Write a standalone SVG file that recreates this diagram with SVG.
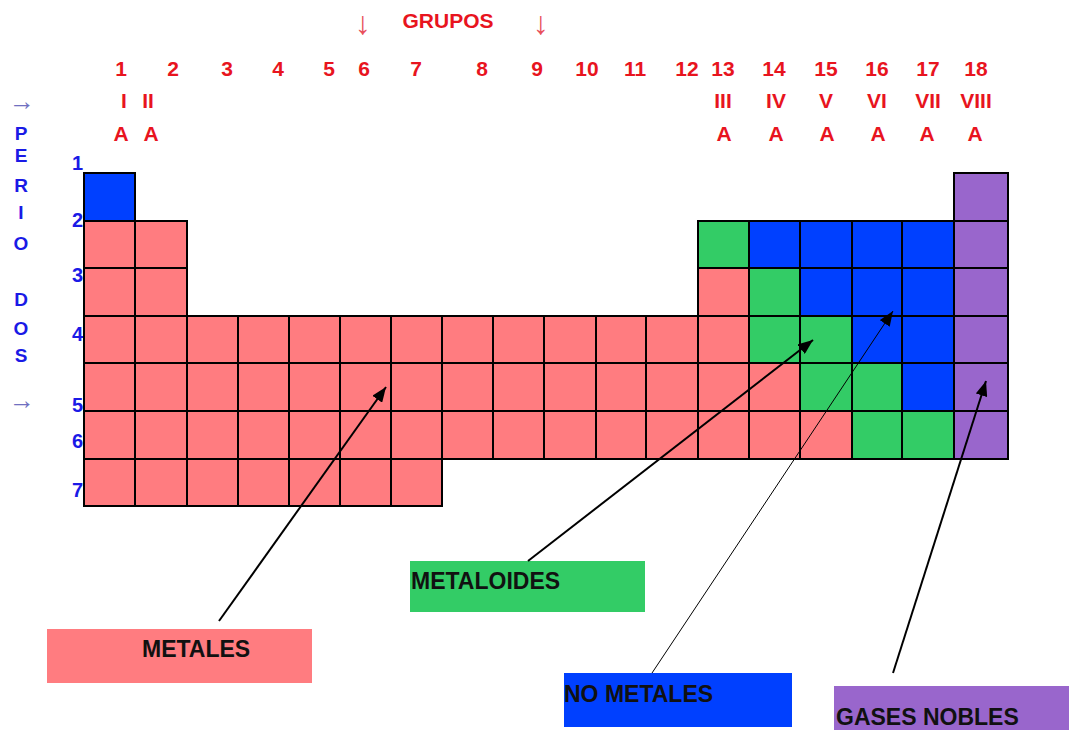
<svg xmlns="http://www.w3.org/2000/svg" width="1073" height="730" viewBox="0 0 1073 730">
<style>
.r{fill:#FF7C80;stroke:#000;stroke-width:2}
.b{fill:#0040FF;stroke:#000;stroke-width:2}
.g{fill:#33CC66;stroke:#000;stroke-width:2}
.p{fill:#9966CC;stroke:#000;stroke-width:2}
.h{font-family:"Liberation Sans",Arial,sans-serif;font-weight:bold;font-size:21px;fill:#E8141E;text-anchor:middle}
.ar{font-family:"Liberation Sans","DejaVu Sans",sans-serif;font-size:32px;fill:#E8505A;text-anchor:middle}
.pl{font-family:"Liberation Sans",Arial,sans-serif;font-weight:bold;font-size:19px;fill:#1A1AE6;text-anchor:middle}
.pn{font-family:"Liberation Sans",Arial,sans-serif;font-weight:bold;font-size:20px;fill:#1A1AE6;text-anchor:end}
.pa{font-family:"Liberation Sans","DejaVu Sans",sans-serif;font-size:26px;fill:#7070C0;text-anchor:middle}
.lt{font-family:"Liberation Sans",Arial,sans-serif;font-weight:bold;font-size:23px;fill:#111}
.c{stroke:#000;fill:none}
</style>
<defs>
<marker id="ah" markerUnits="userSpaceOnUse" markerWidth="16" markerHeight="12" refX="15" refY="6" orient="auto">
<path d="M0,0 L15,6 L0,12 z" fill="#000"/>
</marker>
</defs>
<rect width="1073" height="730" fill="#fff"/>

<g id="header">
<text class="ar" x="363" y="34">↓</text>
<text class="h" x="448" y="28" font-size="22">GRUPOS</text>
<text class="ar" x="541" y="34">↓</text>
<text class="h" x="121" y="76">1</text>
<text class="h" x="173" y="76">2</text>
<text class="h" x="227" y="76">3</text>
<text class="h" x="278" y="76">4</text>
<text class="h" x="329" y="76">5</text>
<text class="h" x="364" y="76">6</text>
<text class="h" x="416" y="76">7</text>
<text class="h" x="482" y="76">8</text>
<text class="h" x="537" y="76">9</text>
<text class="h" x="587" y="76">10</text>
<text class="h" x="635" y="76">11</text>
<text class="h" x="687" y="76">12</text>
<text class="h" x="723" y="76">13</text>
<text class="h" x="774" y="76">14</text>
<text class="h" x="826" y="76">15</text>
<text class="h" x="877" y="76">16</text>
<text class="h" x="928" y="76">17</text>
<text class="h" x="976" y="76">18</text>
<text class="h" x="124" y="108">I</text>
<text class="h" x="148" y="108">II</text>
<text class="h" x="723" y="108">III</text>
<text class="h" x="776" y="108">IV</text>
<text class="h" x="826" y="108">V</text>
<text class="h" x="877" y="108">VI</text>
<text class="h" x="928" y="108">VII</text>
<text class="h" x="976" y="108">VIII</text>
<text class="h" x="121" y="140.5">A</text>
<text class="h" x="151" y="140.5">A</text>
<text class="h" x="724" y="140.5">A</text>
<text class="h" x="776" y="140.5">A</text>
<text class="h" x="827" y="140.5">A</text>
<text class="h" x="878" y="140.5">A</text>
<text class="h" x="927" y="140.5">A</text>
<text class="h" x="975" y="140.5">A</text>
</g>

<g id="periodos">
<text class="pa" x="22" y="110">→</text>
<text class="pl" x="21" y="140">P</text>
<text class="pl" x="21" y="162">E</text>
<text class="pl" x="21" y="192">R</text>
<text class="pl" x="21" y="219">I</text>
<text class="pl" x="21" y="250">O</text>
<text class="pl" x="21" y="306">D</text>
<text class="pl" x="21" y="335">O</text>
<text class="pl" x="21" y="362">S</text>
<text class="pa" x="22" y="409">→</text>
<text class="pn" x="83" y="170">1</text>
<text class="pn" x="83" y="227">2</text>
<text class="pn" x="83" y="282">3</text>
<text class="pn" x="83" y="341">4</text>
<text class="pn" x="83" y="412">5</text>
<text class="pn" x="83" y="448">6</text>
<text class="pn" x="83" y="497">7</text>
</g>

<g id="tabla">
<!-- row 1 -->
<rect class="b" x="84" y="173" width="51" height="48"/>
<rect class="p" x="954" y="173" width="54" height="48"/>
<!-- row 2 -->
<rect class="r" x="84" y="221" width="51" height="47"/>
<rect class="r" x="135" y="221" width="52" height="47"/>
<rect class="g" x="698" y="221" width="51" height="47"/>
<rect class="b" x="749" y="221" width="51" height="47"/>
<rect class="b" x="800" y="221" width="52" height="47"/>
<rect class="b" x="852" y="221" width="50" height="47"/>
<rect class="b" x="902" y="221" width="52" height="47"/>
<rect class="p" x="954" y="221" width="54" height="47"/>
<!-- row 3 -->
<rect class="r" x="84" y="268" width="51" height="48"/>
<rect class="r" x="135" y="268" width="52" height="48"/>
<rect class="r" x="698" y="268" width="51" height="48"/>
<rect class="g" x="749" y="268" width="51" height="48"/>
<rect class="b" x="800" y="268" width="52" height="48"/>
<rect class="b" x="852" y="268" width="50" height="48"/>
<rect class="b" x="902" y="268" width="52" height="48"/>
<rect class="p" x="954" y="268" width="54" height="48"/>
<!-- row 4 -->
<rect class="r" x="84" y="316" width="51" height="47"/>
<rect class="r" x="135" y="316" width="52" height="47"/>
<rect class="r" x="187" y="316" width="51" height="47"/>
<rect class="r" x="238" y="316" width="51" height="47"/>
<rect class="r" x="289" y="316" width="51" height="47"/>
<rect class="r" x="340" y="316" width="51" height="47"/>
<rect class="r" x="391" y="316" width="51" height="47"/>
<rect class="r" x="442" y="316" width="51" height="47"/>
<rect class="r" x="493" y="316" width="51" height="47"/>
<rect class="r" x="544" y="316" width="52" height="47"/>
<rect class="r" x="596" y="316" width="50" height="47"/>
<rect class="r" x="646" y="316" width="52" height="47"/>
<rect class="r" x="698" y="316" width="51" height="47"/>
<rect class="g" x="749" y="316" width="51" height="47"/>
<rect class="g" x="800" y="316" width="52" height="47"/>
<rect class="b" x="852" y="316" width="50" height="47"/>
<rect class="b" x="902" y="316" width="52" height="47"/>
<rect class="p" x="954" y="316" width="54" height="47"/>
<!-- row 5 -->
<rect class="r" x="84" y="363" width="51" height="48"/>
<rect class="r" x="135" y="363" width="52" height="48"/>
<rect class="r" x="187" y="363" width="51" height="48"/>
<rect class="r" x="238" y="363" width="51" height="48"/>
<rect class="r" x="289" y="363" width="51" height="48"/>
<rect class="r" x="340" y="363" width="51" height="48"/>
<rect class="r" x="391" y="363" width="51" height="48"/>
<rect class="r" x="442" y="363" width="51" height="48"/>
<rect class="r" x="493" y="363" width="51" height="48"/>
<rect class="r" x="544" y="363" width="52" height="48"/>
<rect class="r" x="596" y="363" width="50" height="48"/>
<rect class="r" x="646" y="363" width="52" height="48"/>
<rect class="r" x="698" y="363" width="51" height="48"/>
<rect class="r" x="749" y="363" width="51" height="48"/>
<rect class="g" x="800" y="363" width="52" height="48"/>
<rect class="g" x="852" y="363" width="50" height="48"/>
<rect class="b" x="902" y="363" width="52" height="48"/>
<rect class="p" x="954" y="363" width="54" height="48"/>
<!-- row 6 -->
<rect class="r" x="84" y="411" width="51" height="48"/>
<rect class="r" x="135" y="411" width="52" height="48"/>
<rect class="r" x="187" y="411" width="51" height="48"/>
<rect class="r" x="238" y="411" width="51" height="48"/>
<rect class="r" x="289" y="411" width="51" height="48"/>
<rect class="r" x="340" y="411" width="51" height="48"/>
<rect class="r" x="391" y="411" width="51" height="48"/>
<rect class="r" x="442" y="411" width="51" height="48"/>
<rect class="r" x="493" y="411" width="51" height="48"/>
<rect class="r" x="544" y="411" width="52" height="48"/>
<rect class="r" x="596" y="411" width="50" height="48"/>
<rect class="r" x="646" y="411" width="52" height="48"/>
<rect class="r" x="698" y="411" width="51" height="48"/>
<rect class="r" x="749" y="411" width="51" height="48"/>
<rect class="r" x="800" y="411" width="52" height="48"/>
<rect class="g" x="852" y="411" width="50" height="48"/>
<rect class="g" x="902" y="411" width="52" height="48"/>
<rect class="p" x="954" y="411" width="54" height="48"/>
<!-- row 7 -->
<rect class="r" x="84" y="459" width="51" height="47"/>
<rect class="r" x="135" y="459" width="52" height="47"/>
<rect class="r" x="187" y="459" width="51" height="47"/>
<rect class="r" x="238" y="459" width="51" height="47"/>
<rect class="r" x="289" y="459" width="51" height="47"/>
<rect class="r" x="340" y="459" width="51" height="47"/>
<rect class="r" x="391" y="459" width="51" height="47"/>
</g>

<g id="metales">
<rect x="47" y="629" width="265" height="54" fill="#FF7C80"/>
<text class="lt" x="142" y="657">METALES</text>
</g>
<g id="metaloides">
<rect x="410" y="561" width="235" height="51" fill="#33CC66"/>
<text class="lt" x="411" y="589">METALOIDES</text>
</g>
<g id="no-metales">
<rect x="564" y="673" width="228" height="54" fill="#0040FF"/>
<text class="lt" x="564" y="702">NO METALES</text>
</g>
<g id="gases-nobles">
<rect x="834" y="686" width="235" height="44" fill="#9966CC"/>
<text class="lt" x="836" y="725" font-size="21.5">GASES NOBLES</text>
</g>

<g id="connectors">
<line class="c" x1="219" y1="621" x2="386" y2="387" stroke-width="2" marker-end="url(#ah)"/>
<line class="c" x1="528" y1="561" x2="813" y2="340" stroke-width="2" marker-end="url(#ah)"/>
<line class="c" x1="652" y1="673" x2="893" y2="311" stroke-width="1" marker-end="url(#ah)"/>
<line class="c" x1="893" y1="673" x2="986" y2="381" stroke-width="2" marker-end="url(#ah)"/>
</g>
</svg>
